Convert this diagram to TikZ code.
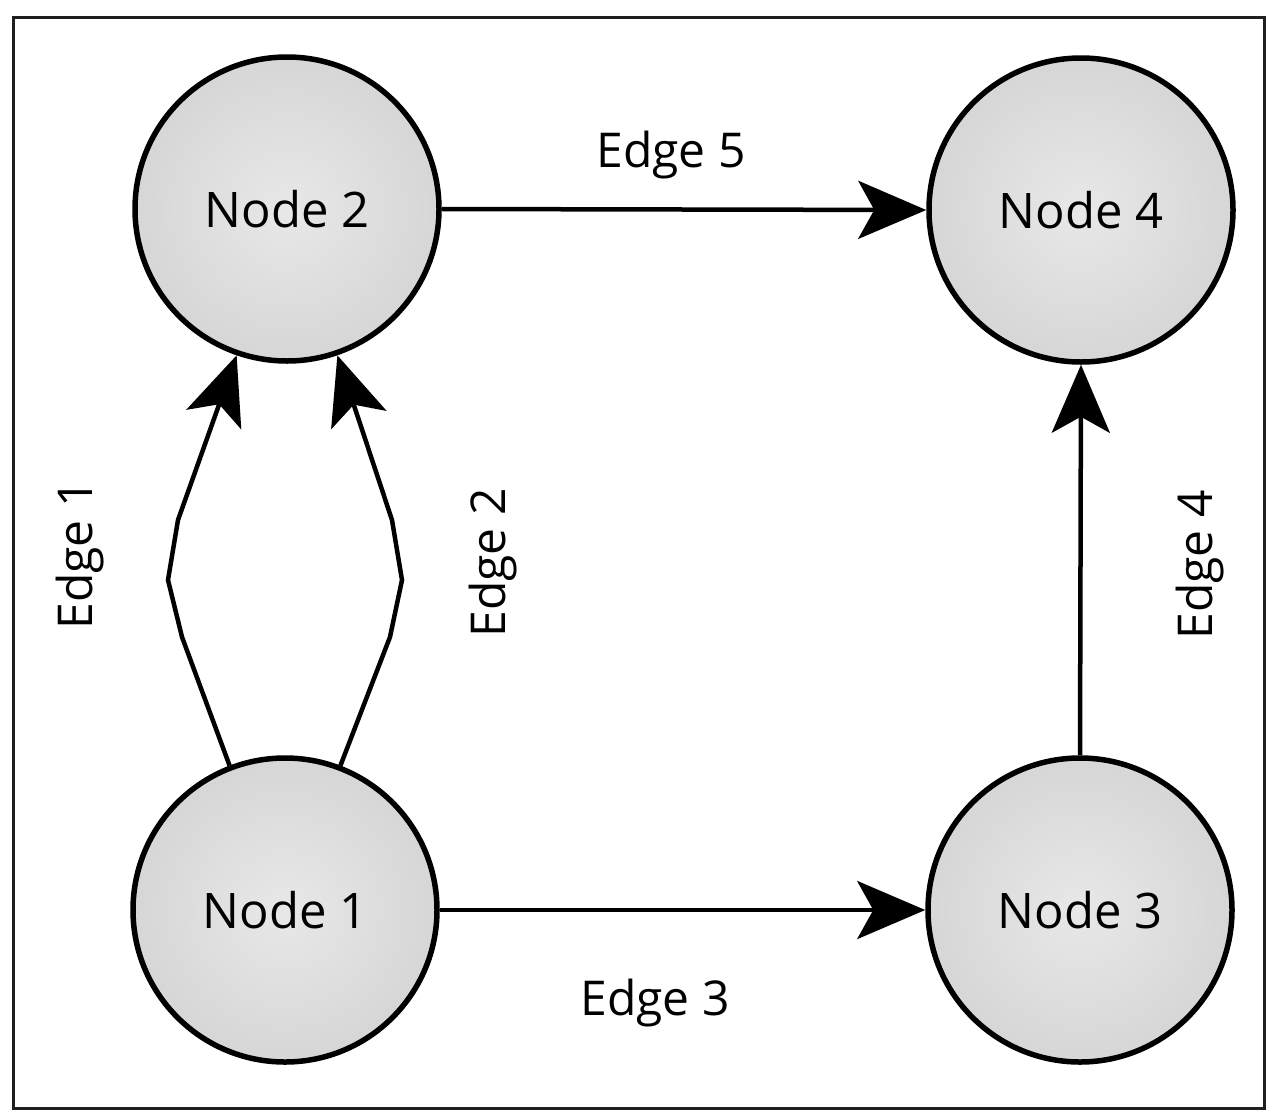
\documentclass[tikz,border=0pt]{standalone}
\usepackage{fontspec}
\setmainfont{Open Sans}
\usetikzlibrary{arrows.meta}
\begin{document}
\begin{tikzpicture}[x=1pt,y=-1pt,
  gnode/.style={circle,draw=black,line width=5.5pt,minimum size=304pt,inner sep=0pt,
    inner color=black!9,outer color=black!16,font=\fontsize{49}{56}\selectfont},
  elabel/.style={font=\fontsize{48}{56}\selectfont,inner sep=0pt},
  conn/.style={line width=4.5pt,line join=miter,
    -{Stealth[length=68pt,width=58pt,inset=16pt]}}]
\useasboundingbox (0,0) rectangle (1276,1119);
\draw[line width=3pt,black!88] (13,17) rectangle (1264,1108);
\node[gnode] (n2) at (287,209) {Node 2};
\node[gnode] (n4) at (1081,210) {Node 4};
\node[gnode] (n1) at (285,910) {Node 1};
\node[gnode] (n3) at (1080,910) {Node 3};
\coordinate (a1) at (182,637);
\coordinate (a2) at (168,580);
\coordinate (a3) at (178,520);
\coordinate (b1) at (390,637);
\coordinate (b2) at (402,580);
\coordinate (b3) at (392,520);
\draw[conn] (n1.111) -- (a1) -- (a2) -- (a3) -- (n2.251);
\draw[conn] (n1.69) -- (b1) -- (b2) -- (b3) -- (n2.289);
\draw[conn] (n2.east) -- (n4.west);
\draw[conn] (n1.east) -- (n3.west);
\draw[conn] (n3.north) -- (n4.south);
\node[elabel] (l5) at (671,155) {Edge 5};
\node[elabel] (l3) at (655,1003) {Edge 3};
\node[elabel,rotate=90] (l1) at (80,555) {Edge 1};
\node[elabel,rotate=90] (l2) at (493,563) {Edge 2};
\node[elabel,rotate=90] (l4) at (1200,565) {Edge 4};
\end{tikzpicture}
\end{document}
